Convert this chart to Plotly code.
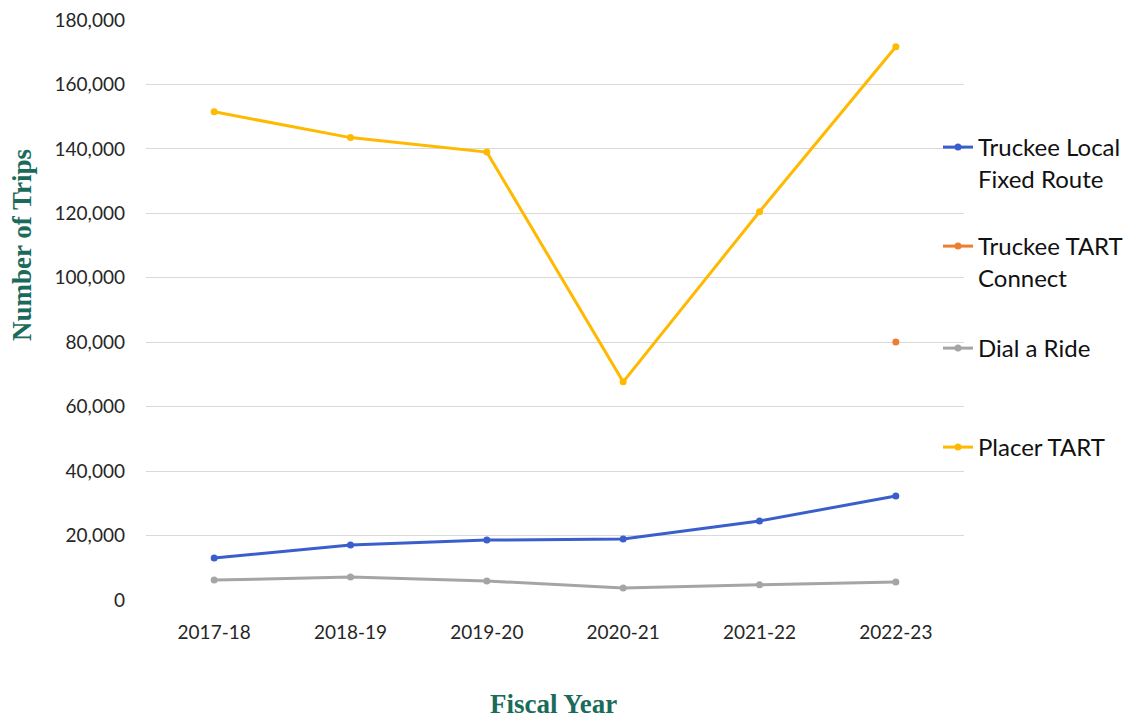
import plotly.graph_objects as go

# Fiscal years on the category axis
years = ["2017-18", "2018-19", "2019-20", "2020-21", "2021-22", "2022-23"]

# Annual ridership per service
truckee_local = [13000, 17100, 18600, 18900, 24500, 32300]
tart_connect = [None, None, None, None, None, 80100]
dial_a_ride = [6200, 7100, 5900, 3700, 4700, 5600]
placer_tart = [151500, 143500, 139000, 67700, 120500, 171700]

y_ticks = [0, 20000, 40000, 60000, 80000, 100000, 120000, 140000, 160000, 180000]

series = [
    ("Truckee Local<br>Fixed Route", truckee_local, "#3A5FCD", "legend"),
    ("Truckee TART<br>Connect", tart_connect, "#ED7D31", "legend2"),
    ("Dial a Ride", dial_a_ride, "#A5A5A5", "legend3"),
    ("Placer TART", placer_tart, "#FFB900", "legend4"),
]

fig = go.Figure()
for name, vals, color, leg in series:
    fig.add_trace(go.Scatter(
        x=years, y=vals, name=name, mode="lines+markers",
        line=dict(color=color, width=3),
        marker=dict(color=color, size=7, symbol="circle"),
        legend=leg, showlegend=True,
    ))

tick_font = dict(family="Lato, Carlito, sans-serif", size=19, color="#262626")
leg_font = dict(family="Lato, Carlito, sans-serif", size=24, color="#111111")
title_font = dict(family="Liberation Serif, serif", size=27, color="#1A6B5A")

# Plot area spans x 146..964 px, y 20..600 px
L, R, T, B = 146, 166, 20, 121
W, H = 1130, 721
pw, ph = W - L - R, H - T - B


def px_x(px):
    return (px - L) / pw


def px_y(py):
    return (H - B - py) / ph


legend_common = dict(
    font=leg_font, bgcolor="rgba(0,0,0,0)", xanchor="left", yanchor="top",
    valign="top", itemwidth=30, borderwidth=0,
)

fig.update_layout(
    width=W, height=H,
    margin=dict(l=L, r=R, t=T, b=B, autoexpand=False),
    paper_bgcolor="white", plot_bgcolor="white",
    showlegend=True,
    legend=dict(x=px_x(938), y=px_y(125), **legend_common),
    legend2=dict(x=px_x(938), y=px_y(224), **legend_common),
    legend3=dict(x=px_x(938), y=px_y(326), **legend_common),
    legend4=dict(x=px_x(938), y=px_y(425), **legend_common),
    xaxis=dict(
        type="category", range=[-0.5, 5.5], showgrid=False, showline=False,
        zeroline=False, tickfont=tick_font, ticks="", ticklabelstandoff=19,
    ),
    yaxis=dict(
        range=[0, 180000], tickvals=y_ticks, tickformat=",d",
        showgrid=True, gridcolor="#D9D9D9", gridwidth=1.3,
        zeroline=False, showline=False, tickfont=tick_font, ticks="",
        ticklabelstandoff=20,
    ),
    annotations=[
        dict(text="<b>Number of Trips</b>", textangle=-90,
             x=px_x(22), y=px_y(245), xref="paper", yref="paper",
             showarrow=False, xanchor="center", yanchor="middle",
             font=title_font),
        dict(text="<b>Fiscal Year</b>",
             x=px_x(553), y=px_y(704), xref="paper", yref="paper",
             showarrow=False, xanchor="center", yanchor="middle",
             font=title_font),
    ],
)

fig.write_html("out.html")
